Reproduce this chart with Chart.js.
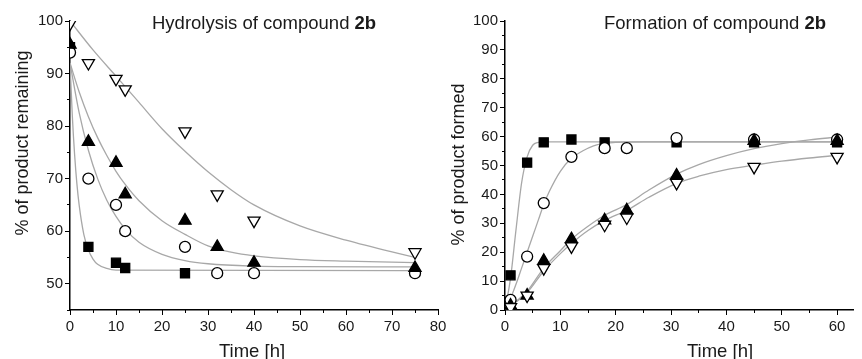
<!DOCTYPE html>
<html>
<head>
<meta charset="utf-8">
<script src="https://cdn.jsdelivr.net/npm/chart.js@4.4.1/dist/chart.umd.min.js"></script>
<style>
  body { margin: 0; background: #fff; }
  #wrap { position: relative; width: 862px; height: 359px; }
  canvas { position: absolute; top: 0; }
  #hydChart { left: 0; }
  #formChart { left: 431px; }
</style>
</head>
<body>
<div id="wrap">
  <canvas id="hydChart" width="460" height="359"></canvas>
  <canvas id="formChart" width="431" height="359"></canvas>
</div>
<script>
// hydrolysis of 2b (left panel)
const hydTime = [0, 4, 10, 12, 25, 32, 40, 75];
const hydSquare = [95, 57, 54, 53, 52, null, null, null];
const hydCircle = [94, 70, 65, 60, 57, 52, 52, 52];
const hydTriUp = [95.5, 77, 73, 67, 62, 57, 54, 53];
const hydTriDown = [99.5, 92, 89, 87, 79, 67, 62, 56];

// fitted curves
const hydFitSquareT = [0, 0.5, 1, 1.5, 2, 3, 4, 5, 6, 8, 10, 75];
const hydFitSquare = [92, 82, 74.6, 69, 64.9, 59.4, 56.4, 54.7, 53.7, 52.9, 52.6, 52.5];
const hydFitCircleT = [0, 2, 4, 6, 8, 10, 12, 15, 20, 25, 30, 40, 50, 75];
const hydFitCircle = [92, 82.5, 75.4, 70, 65.9, 62.8, 60.4, 57.9, 55.6, 54.4, 53.8, 53.35, 53.25, 53.2];
const hydFitTriUpT = [0, 2, 4, 6, 8, 10, 12, 15, 20, 25, 30, 35, 40, 50, 60, 75];
const hydFitTriUp = [92, 86.5, 81.8, 77.8, 74.4, 71.4, 68.9, 65.8, 62, 59.4, 57.2, 56, 55.3, 54.6, 54.3, 54.0];
const hydFitTriDownT = [0, 5, 10, 15, 20, 25, 30, 35, 40, 50, 60, 75];
const hydFitTriDown = [100, 94.5, 89.5, 84.5, 79.5, 75.2, 71.3, 67.9, 65, 61, 58.3, 55];

// formation of 2b (right panel)
const formTime = [1, 4, 7, 12, 18, 22, 31, 45, 60];
const formSquare = [12, 51, 58, 59, 58, null, 58, 58, 58];
const formCircle = [3.5, 18.5, 37, 53, 56, 56, 59.5, 59, 59];
const formTriUp = [1.5, 5, 17, 24.5, 31, 34.5, 46.5, 58.5, 58.5];
const formTriDown = [1, 5, 14.5, 22, 29.5, 32, 44, 49.5, 53];

const formFitSquareT = [0, 1, 2, 3, 4, 5, 6, 7, 60];
const formFitSquare = [0, 11, 28, 44, 53, 57, 58, 58.2, 58.2];
const formFitCircleT = [0, 1, 2, 3, 4, 5, 6, 7, 8, 10, 12, 14, 16, 18, 20, 25, 60];
const formFitCircle = [0, 4, 9, 14.5, 20, 25.5, 31, 36.5, 41, 48, 52.5, 55, 56.8, 57.6, 58, 58.2, 58.2];
const formFitTriUpT = [0, 2, 4, 7, 10, 12, 15, 18, 22, 26, 31, 35, 40, 45, 50, 55, 60];
const formFitTriUp = [0, 3, 6.5, 14.5, 20.5, 24.5, 29, 32.8, 36.5, 41.5, 47, 50.3, 53.4, 55.8, 57.6, 58.9, 59.8];
const formFitTriDownT = [0, 2, 4, 7, 10, 12, 15, 18, 22, 26, 31, 35, 40, 45, 50, 55, 60];
const formFitTriDown = [0, 2.8, 6, 13.5, 19.5, 23, 27.5, 31, 34.5, 39, 43.8, 46.3, 48.6, 50.1, 51.5, 52.6, 53.5];

const FONT = '"Liberation Sans", Arial, sans-serif';
const INK = '#1a1a1a';
const CURVE = '#a8a8a8';

function pts(xs, ys) {
    return xs.map((x, i) => ({ x: x, y: ys[i] })).filter(p => p.y !== null);
}

function markers(xs, ys, style, filled, radius, rotation, order) {
    return {
        data: pts(xs, ys),
        showLine: false,
        pointStyle: style,
        pointRadius: radius,
        pointRotation: rotation,
        pointBorderWidth: 1.3,
        pointBorderColor: '#000',
        pointBackgroundColor: filled ? '#000' : '#fff',
        clip: 0,
        order: order
    };
}

function curve(xs, ys) {
    return {
        data: pts(xs, ys),
        showLine: true,
        borderColor: CURVE,
        borderWidth: 1.3,
        pointRadius: 0,
        cubicInterpolationMode: 'monotone',
        order: 10
    };
}

// titles drawn by hand so they can sit where the original has them
const textPlugin = {
    id: 'panelText',
    afterDraw(chart, args, o) {
        const ctx = chart.ctx;
        ctx.save();
        ctx.fillStyle = INK;
        ctx.textBaseline = 'alphabetic';
        ctx.textAlign = 'left';
        ctx.font = '18.5px ' + FONT;
        ctx.fillText(o.title[0], o.titleX, o.titleY);
        const w = ctx.measureText(o.title[0]).width;
        ctx.font = 'bold 18.5px ' + FONT;
        ctx.fillText(o.title[1], o.titleX + w, o.titleY);

        ctx.font = '18.5px ' + FONT;
        ctx.textAlign = 'center';
        ctx.fillText(o.xTitle, o.xTitleX, o.xTitleY);

        ctx.translate(o.yTitleX, o.yTitleY);
        ctx.rotate(-Math.PI / 2);
        ctx.font = '18px ' + FONT;
        ctx.fillText(o.yTitle, 0, 0);
        ctx.restore();
    }
};

// labelled axis, major ticks every 10
function axis(min, max, yWidth, xHeight, isY) {
    return {
        type: 'linear',
        min: min,
        max: max,
        border: { display: true, color: '#000', width: 1.5 },
        grid: { drawOnChartArea: false, drawTicks: true, tickLength: 5, color: '#000', lineWidth: 1 },
        ticks: {
            stepSize: 10,
            autoSkip: false,
            includeBounds: false,
            maxRotation: 0,
            padding: isY ? 2 : 3,
            color: INK,
            font: { family: FONT, size: 15 },
            callback: v => (v % 10 === 0 ? String(v) : '')
        },
        afterFit: isY ? (s => { s.width = yWidth; }) : (s => { s.height = xHeight; })
    };
}

// unlabelled axis that only carries the short minor ticks
function minorAxis(min, max, dir) {
    return {
        type: 'linear',
        axis: dir,
        position: dir === 'x' ? 'bottom' : 'left',
        weight: -1,
        min: min,
        max: max,
        border: { display: false },
        grid: { drawOnChartArea: false, drawTicks: true, tickLength: 3, color: '#000', lineWidth: 1 },
        ticks: {
            stepSize: 5,
            autoSkip: false,
            includeBounds: false,
            padding: 0,
            font: { size: 1 },
            callback: () => ''
        },
        afterFit: dir === 'x' ? (s => { s.height = 0; }) : (s => { s.width = 0; })
    };
}

new Chart(document.getElementById('hydChart'), {
    type: 'scatter',
    data: {
        datasets: [
            curve(hydFitSquareT, hydFitSquare),
            curve(hydFitCircleT, hydFitCircle),
            curve(hydFitTriUpT, hydFitTriUp),
            curve(hydFitTriDownT, hydFitTriDown),
            markers(hydTime, hydSquare, 'rect', true, 6.4, 0, 4),
            markers(hydTime, hydCircle, 'circle', false, 5.5, 0, 3),
            markers(hydTime, hydTriUp, 'triangle', true, 7, 0, 2),
            markers(hydTime, hydTriDown, 'triangle', false, 7, 180, 1)
        ]
    },
    options: {
        responsive: false,
        animation: false,
        layout: { padding: { left: 0, top: 21, right: 22, bottom: 0 } },
        scales: {
            x: axis(0, 80, 0, 49, false),
            y: axis(45, 100, 70, 0, true),
            xm: minorAxis(0, 80, 'x'),
            ym: minorAxis(45, 100, 'y')
        },
        plugins: {
            legend: { display: false },
            tooltip: { enabled: false },
            panelText: {
                title: ['Hydrolysis of compound ', '2b'],
                titleX: 152, titleY: 28.5,
                xTitle: 'Time [h]', xTitleX: 252, xTitleY: 356.5,
                yTitle: '% of product remaining', yTitleX: 28, yTitleY: 143
            }
        }
    },
    plugins: [textPlugin]
});

new Chart(document.getElementById('formChart'), {
    type: 'scatter',
    data: {
        datasets: [
            curve(formFitSquareT, formFitSquare),
            curve(formFitCircleT, formFitCircle),
            curve(formFitTriUpT, formFitTriUp),
            curve(formFitTriDownT, formFitTriDown),
            markers(formTime, formSquare, 'rect', true, 6.4, 0, 4),
            markers(formTime, formCircle, 'circle', false, 5.5, 0, 3),
            markers(formTime, formTriUp, 'triangle', true, 7, 0, 2),
            markers(formTime, formTriDown, 'triangle', false, 7, 180, 1)
        ]
    },
    options: {
        responsive: false,
        animation: false,
        layout: { padding: { left: 0, top: 21, right: 1, bottom: 0 } },
        scales: {
            x: axis(0, 63, 0, 49, false),
            y: axis(0, 100, 74, 0, true),
            xm: minorAxis(0, 63, 'x'),
            ym: minorAxis(0, 100, 'y')
        },
        plugins: {
            legend: { display: false },
            tooltip: { enabled: false },
            panelText: {
                title: ['Formation of compound ', '2b'],
                titleX: 173, titleY: 28.5,
                xTitle: 'Time [h]', xTitleX: 289, xTitleY: 356.5,
                yTitle: '% of product formed', yTitleX: 32.5, yTitleY: 164.5
            }
        }
    },
    plugins: [textPlugin]
});
</script>
</body>
</html>
